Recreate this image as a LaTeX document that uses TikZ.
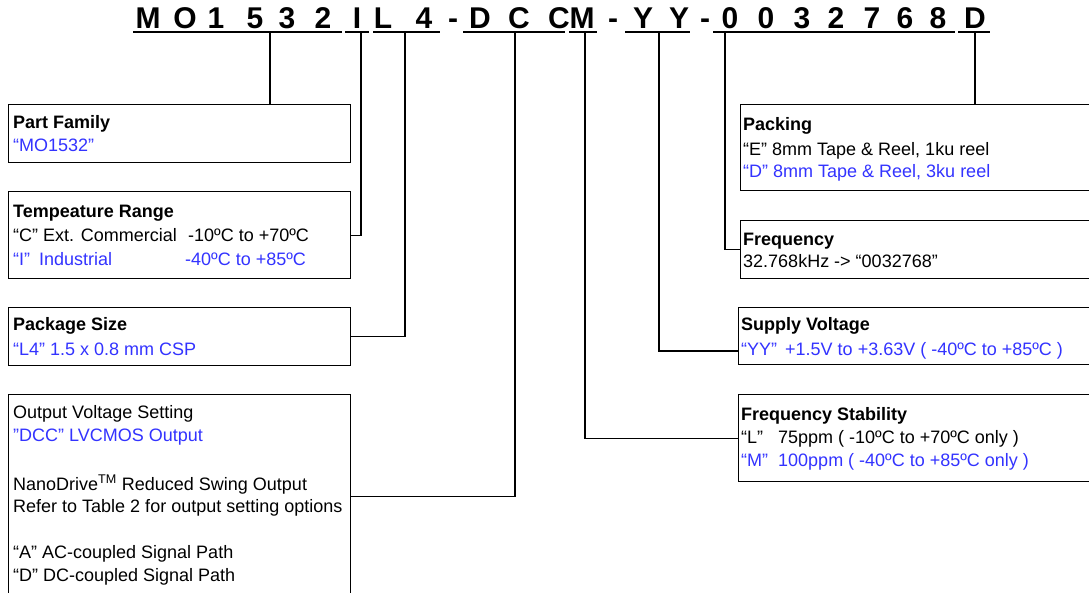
\documentclass[tikz,border=0pt]{standalone}
\usepackage{fontspec}
\setmainfont{Liberation Sans}
\definecolor{pnblue}{RGB}{51,51,255}
\begin{document}
\begin{tikzpicture}[x=1pt,y=-1pt,
  box/.style={draw, line width=1.2pt, inner sep=0pt, anchor=north west},
  txt/.style={anchor=base west, inner sep=0pt, font=\fontsize{18}{22}\selectfont},
  ttl/.style={anchor=base west, inner sep=0pt, font=\fontsize{18}{22}\selectfont\bfseries},
  blu/.style={txt, text=pnblue},
  hdr/.style={anchor=base, inner sep=0pt, font=\fontsize{30}{30}\selectfont\bfseries},
  conn/.style={line width=1.2pt},
  uline/.style={line width=1.5pt}]
\useasboundingbox (0,0) rectangle (1089,592);
\clip (0,0) rectangle (1089,592);
\fill[white] (0,0) rectangle (1089,592);

% header characters
\foreach \x/\c [count=\i] in {148/M,185/O,216/1,255/5,287/3,323/2,357/I,383/L,424/4,453/-,480/D,519/C,559/C,582/M,613/-,643/Y,679/Y,705/-,730/0,766/0,802/3,836/2,872/7,905/6,938/8,975/D}
  \node[hdr] (h\i) at (\x,28.3) {\c};

% underlines
\draw[uline] (133,32) -- (342,32);
\draw[uline] (345,32) -- (369,32);
\draw[uline] (373,32) -- (440,32);
\draw[uline] (463,32) -- (565,32);
\draw[uline] (569,32) -- (597,32);
\draw[uline] (625,32) -- (690,32);
\draw[uline] (713,32) -- (955,32);
\draw[uline] (958,32) -- (990,32);

\coordinate (cMO) at (270,32);
\coordinate (cI) at (361,32);
\coordinate (cL) at (405,32);
\coordinate (cDCC) at (515,32);
\coordinate (cM) at (585,32);
\coordinate (cYY) at (659,32);
\coordinate (cF) at (725,32);
\coordinate (cD) at (975,32);

% boxes
\node[box, minimum width=342pt, minimum height=58pt] (pf) at (8,104) {};
\node[box, minimum width=342pt, minimum height=87pt] (temp) at (8,191) {};
\node[box, minimum width=342pt, minimum height=58pt] (pkg) at (8,307) {};
\node[box, minimum width=342pt, minimum height=204pt] (out) at (8,394) {};
\node[box, minimum width=370pt, minimum height=86pt] (pk) at (740,104) {};
\node[box, minimum width=370pt, minimum height=58pt] (fr) at (740,220) {};
\node[box, minimum width=370pt, minimum height=57pt] (sv) at (738,307) {};
\node[box, minimum width=370pt, minimum height=87pt] (fs) at (738,394) {};
\coordinate (svin) at (738,351);

% connectors
\draw[conn] (cMO) -- (pf.north -| cMO);
\draw[conn] (cI) |- (temp.east);
\draw[conn] (cL) |- (pkg.east);
\draw[conn] (cDCC) |- (out.east);
\draw[conn] (cM) |- (fs.west);
\draw[conn] (cYY) |- (svin);
\draw[conn] (cF) |- (fr.west);
\draw[conn] (cD) -- (pk.north -| cD);

% Part Family
\node[ttl] (pf1) at (13,128.3) {Part Family};
\node[blu] (pf2) at (13,151.7) {“MO1532”};
% Temperature
\node[ttl] (t1) at (13,217.3) {Tempeature Range};
\node[txt] (t2a) at (13,241.7) {“C” Ext. Commercial};
\node[txt] (t2b) at (188,241.7) {-10ºC to +70ºC};
\node[blu] (t3a) at (13,265) {“I”};
\node[blu] (t3b) at (39,265) {Industrial};
\node[blu] (t3c) at (185,265) {-40ºC to +85ºC};
% Package
\node[ttl] (p1) at (13,330.7) {Package Size};
\node[blu] (p2) at (13,355) {“L4” 1.5 x 0.8 mm CSP};
% Output
\node[txt] (o1) at (13,418.3) {Output Voltage Setting};
\node[blu] (o2) at (13,441) {"DCC" LVCMOS Output};
\node[txt] (o3) at (13,490) {NanoDrive\textsuperscript{TM} Reduced Swing Output};
\node[txt] (o4) at (13,512.3) {Refer to Table 2 for output setting options};
\node[txt] (o5) at (13,558.3) {“A” AC-coupled Signal Path};
\node[txt] (o6) at (13,581.7) {“D” DC-coupled Signal Path};
% Packing
\node[ttl] (k1) at (743,130) {Packing};
\node[txt] (k2) at (743,155) {“E” 8mm Tape \& Reel, 1ku reel};
\node[blu] (k3) at (743,177) {“D” 8mm Tape \& Reel, 3ku reel};
% Frequency
\node[ttl] (f1) at (743,245) {Frequency};
\node[txt] (f2) at (743,267) {32.768kHz -> “0032768”};
% Supply
\node[ttl] (s1) at (741,330.7) {Supply Voltage};
\node[blu] (s2a) at (741,355) {“YY”};
\node[blu] (s2b) at (785,355) {+1.5V to +3.63V ( -40ºC to +85ºC )};
% Stability
\node[ttl] (fs1) at (741,420) {Frequency Stability};
\node[txt] (fs2a) at (741,443.3) {“L”};
\node[txt] (fs2b) at (778,443.3) {75ppm ( -10ºC to +70ºC only )};
\node[blu] (fs3a) at (741,466.7) {“M”};
\node[blu] (fs3b) at (778,466.7) {100ppm ( -40ºC to +85ºC only )};
\end{tikzpicture}
\end{document}
